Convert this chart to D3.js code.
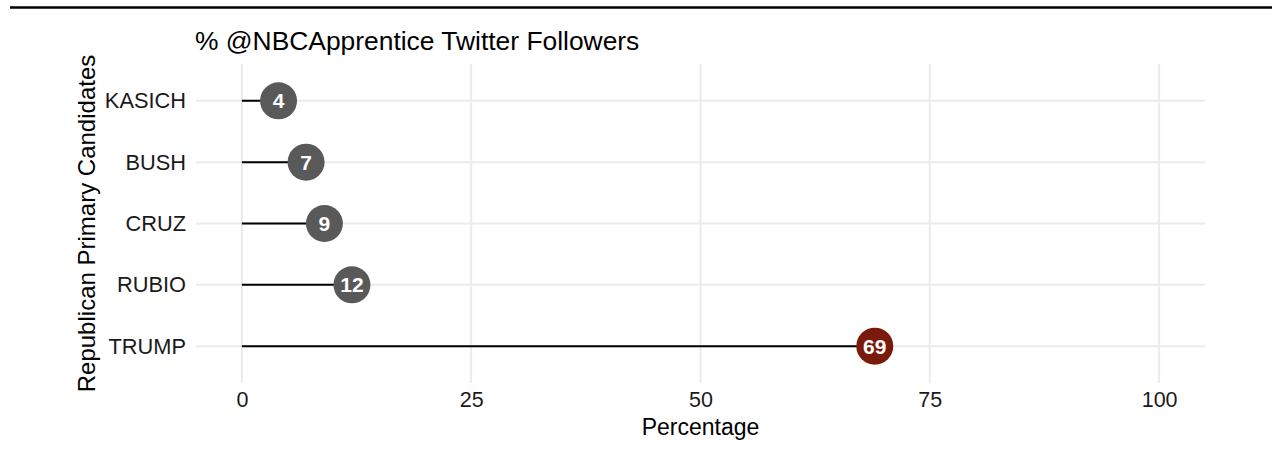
<!DOCTYPE html>
<html>
<head>
<meta charset="utf-8">
<script src="https://cdn.jsdelivr.net/npm/d3@7"></script>
<style>
    body { margin: 0; background: #fff; }
    svg text { font-family: "Liberation Sans", Arial, sans-serif; }
</style>
</head>
<body>
<svg id="chart" width="1278" height="453"></svg>
<script>
(function()
{
    var candidates = ['KASICH', 'BUSH', 'CRUZ', 'RUBIO', 'TRUMP'],
        percents = [4, 7, 9, 12, 69],
        xTicks = [0, 25, 50, 75, 100],
        highlight = 'TRUMP';

    var svg = d3.select('#chart'),
        panel = { left : 196, right : 1205, top : 64, bottom : 383 };

    // top rule
    svg.append('line').attr('x1', 10).attr('x2', 1272).attr('y1', 7.5).attr('y2', 7.5)
        .attr('stroke', '#000').attr('stroke-width', 2.5);

    var x = d3.scaleLinear().domain([-5, 105]).range([panel.left, panel.right]),
        y = d3.scalePoint().domain(candidates).range([panel.top, panel.bottom]).padding(0.6);

    // grid
    svg.append('g').selectAll('line').data(xTicks).join('line')
        .attr('x1', x).attr('x2', x).attr('y1', panel.top).attr('y2', panel.bottom)
        .attr('stroke', '#ebebeb').attr('stroke-width', 2);
    svg.append('g').selectAll('line').data(candidates).join('line')
        .attr('x1', panel.left).attr('x2', panel.right).attr('y1', y).attr('y2', y)
        .attr('stroke', '#ebebeb').attr('stroke-width', 2);

    // x axis labels
    var xAxis = svg.append('g').attr('transform', 'translate(0,' + panel.bottom + ')')
        .call(d3.axisBottom(x).tickValues(xTicks).tickSize(0).tickPadding(9));
    xAxis.select('.domain').remove();
    xAxis.selectAll('text').attr('font-size', 21.5).attr('fill', '#1a1a1a')
        .attr('font-family', '"Liberation Sans", Arial, sans-serif');

    // y axis labels
    var yAxis = svg.append('g').attr('transform', 'translate(' + (panel.left - 10) + ',0)')
        .call(d3.axisLeft(y).tickSize(0).tickPadding(0));
    yAxis.select('.domain').remove();
    yAxis.selectAll('text').attr('font-size', 21.8).attr('fill', '#1a1a1a')
        .attr('font-family', '"Liberation Sans", Arial, sans-serif');

    // segments
    svg.append('g').selectAll('line').data(candidates).join('line')
        .attr('x1', x(0)).attr('x2', function(d, i) { return x(percents[i]); })
        .attr('y1', y).attr('y2', y)
        .attr('stroke', '#000').attr('stroke-width', 2);

    // points
    var pts = svg.append('g').selectAll('g').data(candidates).join('g')
        .attr('transform', function(d, i) { return 'translate(' + x(percents[i]) + ',' + y(d) + ')'; });
    pts.append('circle').attr('r', 18.5)
        .attr('fill', function(d) { return d === highlight ? '#7a1a0a' : '#595959'; });
    pts.append('text').text(function(d, i) { return percents[i]; })
        .attr('text-anchor', 'middle').attr('dy', '0.36em')
        .attr('font-size', 21).attr('font-weight', 'bold').attr('fill', '#fff');

    // titles
    svg.append('text').attr('x', 195).attr('y', 50).attr('font-size', 26.4).attr('fill', '#000')
        .text('% @NBCApprentice Twitter Followers');
    svg.append('text').attr('x', x(50)).attr('y', 435).attr('text-anchor', 'middle')
        .attr('font-size', 23).attr('fill', '#000').text('Percentage');
    svg.append('text').attr('transform', 'translate(95,' + ((panel.top + panel.bottom) / 2) + ') rotate(-90)')
        .attr('text-anchor', 'middle').attr('font-size', 24).attr('fill', '#000')
        .text('Republican Primary Candidates');
})();
</script>
</body>
</html>
